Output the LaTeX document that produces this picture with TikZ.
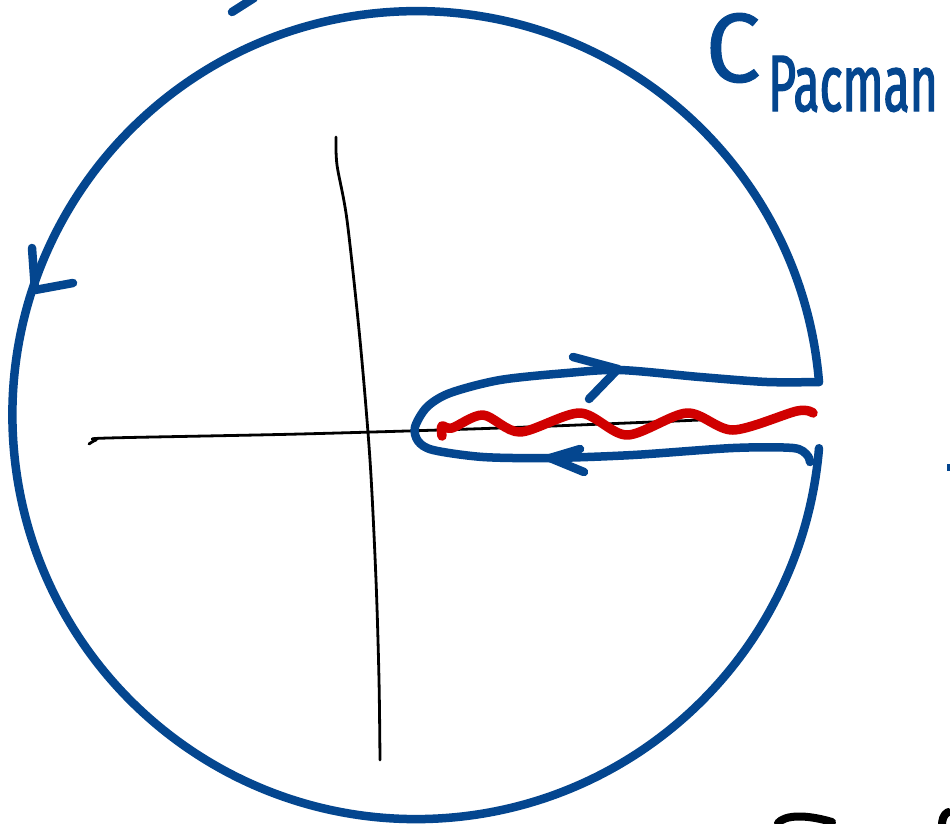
\documentclass[tikz,border=0pt]{standalone}
\usepackage{fontspec}
\newfontfamily\handfont[FakeStretch=0.6,FakeBold=1.5]{Fira Sans}
\newfontfamily\handC[FakeBold=1]{Fira Sans}
\definecolor{penblue}{RGB}{4,70,143}
\definecolor{penred}{RGB}{208,0,0}
\tikzset{
  bluepen/.style={draw=penblue, line width=8.5pt, line cap=round, line join=round},
  redpen/.style={draw=penred, line width=9.5pt, line cap=round, line join=round},
  axispen/.style={draw=black, line width=2.8pt, line cap=round, line join=round},
  blackpen/.style={draw=black, line width=8pt, line cap=round, line join=round},
  barb/.style={bluepen}
}
\begin{document}
\begin{tikzpicture}[x=1pt,y=-1pt]
\clip (0,0) rectangle (950,823);
\fill[white] (0,0) rectangle (950,823);

% axes
\draw[axispen] plot[smooth] coordinates {(89,444) (96,440) (108,438) (300,434) (500,428) (700,420)};
\draw[axispen] plot[smooth] coordinates {(336,137) (337,165) (347,220) (360,340) (370,460) (376,580) (379,680) (380,760)};

% branch cut
\draw[redpen] plot[smooth] coordinates {(442,436) (442,426) (452,428) (483,415) (520,432) (580,413) (627,435) (687,413) (733,430) (797,411) (813,413)};

% pacman contour
\coordinate (cu) at (819,382);
\coordinate (cl) at (819,453);
\draw[bluepen] (cu) arc[start angle=-4.7, end angle=-355.3, radius=404];
\draw[bluepen] plot[smooth] coordinates {(819,382) (767,382) (700,377) (620,370) (567,373) (500,380) (450,393) (427,407) (415,427) (418,441) (433,450) (483,457) (550,458) (633,455) (733,448) (793,448) (807,455) (810,462)};

% arrow barbs
\draw[barb] (32,248) -- (35,290) -- (73,283);
\draw[barb] (573,357) -- (618,369) -- (589,399);
\draw[barb] (580,449) -- (550,458) -- (584,472);

% label
\node[penblue, inner sep=0, anchor=center] (labC) at (733,48) {\handC\fontsize{98}{98}\selectfont C};
\node[penblue, inner sep=0, anchor=base west] (labP) at (768,111) {\handfont\fontsize{80}{80}\selectfont Pacman};

% fragments at the edges
\draw[bluepen] (232,12) -- (254,-2);
\draw[blackpen] (778,823) .. controls (785,815) and (805,814) .. (832,822);
\draw[blackpen] (948,812) .. controls (943,815) and (942,820) .. (942,826);
\fill[penblue] (947,464) rectangle (950,471);
\end{tikzpicture}
\end{document}
